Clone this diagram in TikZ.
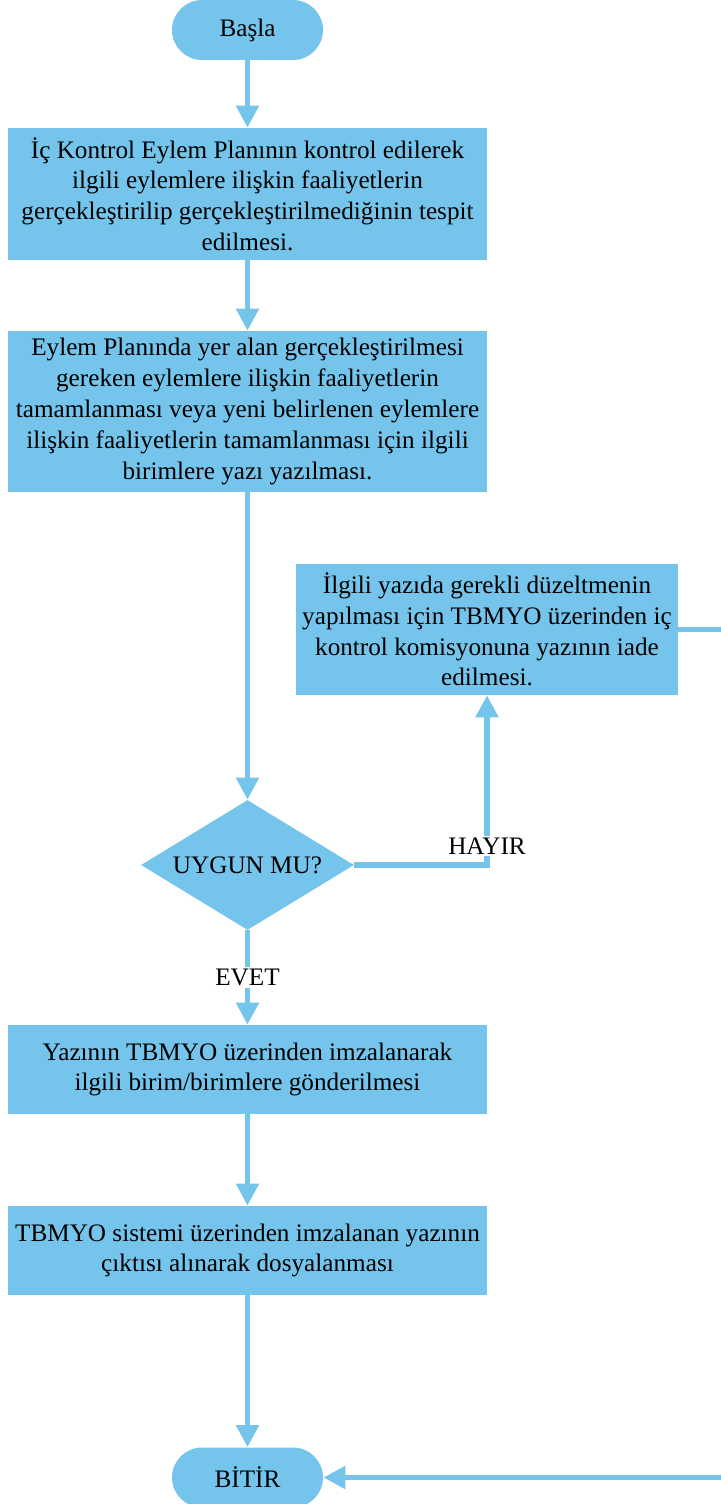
\documentclass[tikz,border=0pt]{standalone}
\usepackage{fontspec}
\setmainfont{Liberation Serif}
\usetikzlibrary{arrows.meta,shapes.geometric}
\definecolor{SkyFill}{HTML}{74C4EC}
\tikzset{
  procbox/.style={fill=SkyFill,minimum width=239.5pt,align=center,inner sep=0pt},
  termbox/.style={fill=SkyFill,rounded corners=15pt,minimum width=75.5pt,minimum height=30pt},
  decbox/.style={diamond,fill=SkyFill,aspect=1.64,inner sep=0pt,
                 minimum width=106.5pt,minimum height=65pt},
  flow/.style={draw=SkyFill,line width=2.6pt,-{Triangle[width=11pt,length=11pt]}},
  tag/.style={fill=white,inner sep=1pt}
}

\begin{document}
\begin{tikzpicture}[x=0.5pt,y=-0.5pt,font={\fontsize{12.6pt}{15.4pt}\selectfont}]
    \useasboundingbox (0,0) rectangle (720,1504);
    \node[termbox] (start) at (247.5,30) {Başla};
    \node[procbox,minimum height=66pt] (check) at (247.5,194)
      {İç Kontrol Eylem Planının kontrol edilerek\\
       ilgili eylemlere ilişkin faaliyetlerin\\
       gerçekleştirilip gerçekleştirilmediğinin tespit\\
       edilmesi.};
    \node[procbox,minimum height=80.5pt] (letter) at (247.5,411.5)
      {Eylem Planında yer alan gerçekleştirilmesi\\
       gereken eylemlere ilişkin faaliyetlerin\\
       tamamlanması veya yeni belirlenen eylemlere\\
       ilişkin faaliyetlerin tamamlanması için ilgili\\
       birimlere yazı yazılması.};
    \node[procbox,minimum width=191pt,minimum height=65.5pt] (back) at (487,629.5)
      {İlgili yazıda gerekli düzeltmenin\\
       yapılması için TBMYO üzerinden iç\\
       kontrol komisyonuna yazının iade\\
       edilmesi.};
    \node[decbox] (ok) at (247.5,865) {UYGUN MU?};
    \node[procbox,minimum height=44.5pt] (sign) at (247.5,1069.5)
      {Yazının TBMYO üzerinden imzalanarak\\
       ilgili birim/birimlere gönderilmesi};
    \node[procbox,minimum height=44.5pt] (file) at (247.5,1250.5)
      {TBMYO sistemi üzerinden imzalanan yazının\\
       çıktısı alınarak dosyalanması};
    \node[termbox] (stop) at (247.5,1477.5) {BİTİR};
    \coordinate (rim) at (724,629.5);

    \draw[flow] (start) -- (check);
    \draw[flow] (check) -- (letter);
    \draw[flow] (letter) -- (ok);
    \draw[flow] (ok.east) -| node[tag,pos=0.5,anchor=south,yshift=3pt] {HAYIR} (back.south);
    \draw[flow] (ok.south) -- node[tag] {EVET} (sign.north);
    \draw[flow] (sign) -- (file);
    \draw[flow] (file) -- (stop);
    \draw[flow] (back.east) -- (rim) |- (stop.east);
  \end{tikzpicture}
\end{document}
